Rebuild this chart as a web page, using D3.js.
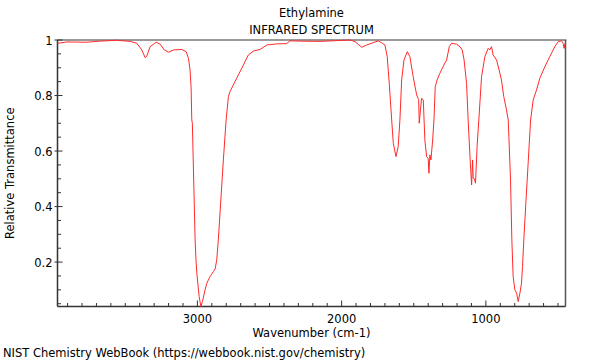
<!DOCTYPE html>
<html>
<head>
<meta charset="utf-8">
<script src="https://cdn.jsdelivr.net/npm/d3@7"></script>
<style>
  html, body { margin: 0; padding: 0; background: #fff; }
  svg { display: block; }
  text { font-family: "DejaVu Sans", sans-serif; fill: #000; }
</style>
</head>
<body>
<svg id="chart" width="600" height="360"></svg>
<script>
// ---- data ----
const title = "Ethylamine";
const subtitle = "INFRARED SPECTRUM";
const xLabel = "Wavenumber (cm-1)";
const yLabel = "Relative Transmittance";
const footer = "NIST Chemistry WebBook (https://webbook.nist.gov/chemistry)";
const xTickValues = [3000, 2000, 1000];
const yTickValues = [0.2, 0.4, 0.6, 0.8, 1];
const wavenumber = [
  3970, 3905, 3766, 3674, 3558, 3466, 3420, 3385, 3362, 3351, 3328, 3286, 3258, 3229, 3201, 3166,
  3108, 3078, 3062, 3051, 3044, 3039, 3035, 3016, 3009, 3004, 2988, 2976, 2965, 2947, 2935, 2912,
  2889, 2877, 2866, 2855, 2820, 2801, 2785, 2774, 2751, 2716, 2681, 2647, 2612, 2566, 2519, 2450,
  2381, 2358, 2289, 2150, 1942, 1907, 1861, 1826, 1746, 1723, 1700, 1684, 1670, 1653, 1642, 1623,
  1608, 1596, 1584, 1568, 1545, 1527, 1504, 1480, 1466, 1462, 1446, 1434, 1423, 1411, 1400, 1395,
  1388, 1381, 1369, 1360, 1351, 1338, 1319, 1291, 1272, 1254, 1238, 1203, 1180, 1164, 1151, 1134,
  1123, 1116, 1109, 1099, 1092, 1088, 1079, 1072, 1061, 1049, 1030, 1007, 984, 973, 961, 950,
  926, 908, 892, 876, 857, 845, 829, 820, 811, 799, 787, 776, 764, 753, 746, 737,
  723, 707, 690, 672, 649, 626, 591, 557, 522, 499, 476, 464, 458, 451
];
const transmittance = [
  0.988, 0.993, 0.992, 0.996, 0.999, 0.995, 0.988, 0.964, 0.936, 0.942, 0.976, 0.992, 0.985, 0.964, 0.956, 0.964,
  0.966, 0.958, 0.934, 0.892, 0.832, 0.712, 0.700, 0.280, 0.200, 0.160, 0.076, 0.040, 0.058, 0.100, 0.124, 0.148,
  0.166, 0.175, 0.208, 0.280, 0.568, 0.712, 0.796, 0.814, 0.838, 0.874, 0.910, 0.946, 0.960, 0.966, 0.982, 0.986,
  0.987, 0.997, 0.996, 0.995, 1.000, 0.994, 0.974, 0.982, 0.997, 0.990, 0.982, 0.940, 0.844, 0.712, 0.628, 0.580,
  0.616, 0.712, 0.856, 0.928, 0.958, 0.940, 0.868, 0.802, 0.785, 0.700, 0.790, 0.784, 0.640, 0.580, 0.574, 0.520,
  0.586, 0.568, 0.640, 0.712, 0.832, 0.856, 0.880, 0.910, 0.928, 0.976, 0.988, 0.985, 0.976, 0.964, 0.928, 0.844,
  0.712, 0.640, 0.568, 0.478, 0.568, 0.502, 0.500, 0.484, 0.616, 0.712, 0.868, 0.940, 0.970, 0.964, 0.976, 0.946,
  0.928, 0.892, 0.856, 0.796, 0.748, 0.712, 0.496, 0.280, 0.148, 0.100, 0.088, 0.058, 0.088, 0.124, 0.184, 0.280,
  0.412, 0.556, 0.712, 0.784, 0.820, 0.862, 0.904, 0.940, 0.976, 0.994, 0.997, 0.988, 0.970, 0.988
];

// ---- layout ----
const svg = d3.select("#chart");
const pLeft = 57.5, pRight = 565.5, pTop = 40, pBottom = 306.5;
const fs = 11.5;

const x = d3.scaleLinear().domain([3970, 448]).range([pLeft, pRight]);
const y = d3.scaleLinear().domain([0.04, 1]).range([pBottom, pTop]);

const axisColor = "#333";

// titles
svg.append("text").attr("x", (pLeft + pRight) / 2).attr("y", 17).attr("text-anchor", "middle")
  .attr("font-size", fs).text(title);
svg.append("text").attr("x", (pLeft + pRight) / 2).attr("y", 34).attr("text-anchor", "middle")
  .attr("font-size", fs).text(subtitle);

// frame: top (light gray) and right (dark)
svg.append("line").attr("x1", pLeft).attr("x2", pRight + 1).attr("y1", pTop).attr("y2", pTop)
  .attr("stroke", "#999").attr("stroke-width", 2);
svg.append("line").attr("x1", pRight).attr("x2", pRight).attr("y1", pTop).attr("y2", pBottom)
  .attr("stroke", "#555").attr("stroke-width", 1.5);

// x axis ticks (inward)
const xMinor = d3.range(3900, 448, -100);
const gx = svg.append("g");
gx.selectAll("line.minor").data(xMinor.filter(v => v % 1000 !== 0)).join("line")
  .attr("x1", d => x(d)).attr("x2", d => x(d)).attr("y1", pBottom).attr("y2", pBottom - 3.5)
  .attr("stroke", axisColor).attr("stroke-width", 1);
gx.selectAll("line.major").data(xTickValues).join("line")
  .attr("x1", d => x(d)).attr("x2", d => x(d)).attr("y1", pBottom).attr("y2", pBottom - 6)
  .attr("stroke", axisColor).attr("stroke-width", 1);
gx.selectAll("text").data(xTickValues).join("text")
  .attr("x", d => x(d)).attr("y", 323).attr("text-anchor", "middle").attr("font-size", fs)
  .text(d => d3.format("d")(d));
svg.append("line").attr("x1", pLeft).attr("x2", pRight).attr("y1", pBottom).attr("y2", pBottom)
  .attr("stroke", axisColor).attr("stroke-width", 1.5);

// y axis ticks
const yMinor = d3.range(0.05, 1.0001, 0.05).map(v => +v.toFixed(2));
const gy = svg.append("g");
gy.selectAll("line.minor").data(yMinor.filter(v => Math.round(v * 100) % 20 !== 0)).join("line")
  .attr("x1", pLeft).attr("x2", pLeft + 3.5).attr("y1", d => y(d)).attr("y2", d => y(d))
  .attr("stroke", axisColor).attr("stroke-width", 1);
gy.selectAll("line.major").data(yTickValues).join("line")
  .attr("x1", pLeft - 3).attr("x2", pLeft + 5).attr("y1", d => y(d)).attr("y2", d => y(d))
  .attr("stroke", axisColor).attr("stroke-width", 1);
gy.selectAll("text").data(yTickValues).join("text")
  .attr("x", pLeft - 5).attr("y", d => y(d) + 4.5).attr("text-anchor", "end").attr("font-size", fs)
  .text(d => d === 1 ? "1" : d3.format(".1f")(d));
svg.append("line").attr("x1", pLeft).attr("x2", pLeft).attr("y1", pTop).attr("y2", pBottom)
  .attr("stroke", axisColor).attr("stroke-width", 1.5);

// spectrum
const pts = wavenumber.map((w, i) => [w, transmittance[i]]);
svg.append("path").datum(pts)
  .attr("fill", "none").attr("stroke", "#ff2a2a").attr("stroke-width", 1)
  .attr("d", d3.line().x(d => x(d[0])).y(d => y(d[1])));

// labels
svg.append("text").attr("x", (pLeft + pRight) / 2).attr("y", 337).attr("text-anchor", "middle")
  .attr("font-size", fs).text(xLabel);
svg.append("text").attr("transform", `translate(14,${(pTop + pBottom) / 2}) rotate(-90)`)
  .attr("text-anchor", "middle").attr("font-size", fs).text(yLabel);
svg.append("text").attr("x", 3).attr("y", 357).attr("font-size", fs).text(footer);
</script>
</body>
</html>
